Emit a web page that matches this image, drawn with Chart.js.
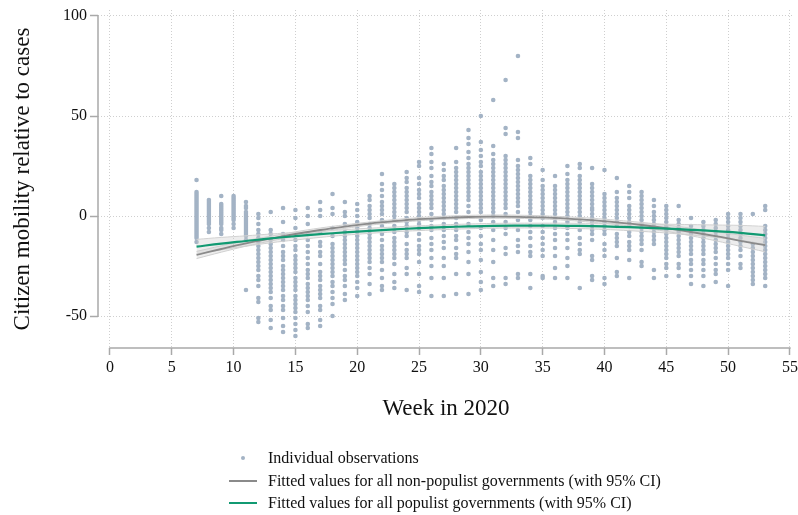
<!DOCTYPE html>
<html>
<head>
<meta charset="utf-8">
<script src="https://cdn.jsdelivr.net/npm/chart.js@4"></script>
<style>
  html, body { margin: 0; padding: 0; background: #fff; }
  #wrap { position: relative; width: 798px; height: 515px; }
  #legend { position: absolute; left: 226px; top: 447px; font-family: "Liberation Serif", "Times New Roman", serif; font-size: 16px; color: #111; }
  .row { height: 22.5px; line-height: 22.5px; display: flex; align-items: center; white-space: nowrap; }
  .sym { width: 42px; position: relative; height: 22px; }
  .dot { position: absolute; left: 15px; top: 9px; width: 4px; height: 4px; border-radius: 50%; background: #a3b3c5; }
  .ln { position: absolute; left: 3px; top: 10px; width: 28px; height: 2px; }
</style>
</head>
<body>
<div id="wrap">
  <canvas id="c" width="798" height="515"></canvas>
  <div id="legend">
    <div class="row"><div class="sym"><div class="dot"></div></div><span>Individual observations</span></div>
    <div class="row"><div class="sym"><div class="ln" style="background:#8a8a8a"></div></div><span>Fitted values for all non-populist governments (with 95% CI)</span></div>
    <div class="row"><div class="sym"><div class="ln" style="background:#119a72"></div></div><span>Fitted values for all populist governments (with 95% CI)</span></div>
  </div>
</div>
<script>
// ---- tick labels ----
const xTicks = [0, 5, 10, 15, 20, 25, 30, 35, 40, 45, 50, 55];
const yTicks = [-50, 0, 50, 100];

// ---- individual observations: one list of values per week ----
const obsWeeks = [7, 8, 9, 10, 11, 12, 13, 14, 15, 16, 17, 18, 19, 20, 21, 22, 23, 24, 25, 26, 27, 28, 29, 30,
                  31, 32, 33, 34, 35, 36, 37, 38, 39, 40, 41, 42, 43, 44, 45, 46, 47, 48, 49, 50, 51, 52, 53];
const observations = [
  [18,12,11,10,9,8,7,6,5,4,3,2,1,0,-1,-2,-3,-4,-5,-6,-7,-8,-9,-10,-11,-13],
  [8,7,6,5,4,3,2,1,0,-1,-2,-3,-4,-6,-8],
  [10,6,5,4,3,2,1,0,-1,-2,-3,-4,-6,-7,-9],
  [10,9,8,7,6,5,4,3,2,1,0,-1,-2,-4,-6],
  [7,5,4,2,1,0,-1,-2,-3,-4,-5,-6,-7,-8,-9,-10,-12,-37],
  [1,-1,-4,-7,-9,-11,-13,-15,-17,-19,-21,-23,-25,-27,-30,-32,-35,-41,-43,-51,-53],
  [2,-7,-9,-12,-14,-16,-18,-20,-22,-24,-26,-28,-30,-32,-34,-36,-38,-41,-45,-47,-52,-56],
  [4,-3,-9,-12,-15,-18,-20,-22,-25,-27,-29,-31,-33,-35,-37,-40,-42,-45,-47,-51,-55,-58],
  [3,-1,-6,-12,-15,-17,-20,-22,-24,-26,-28,-31,-33,-35,-37,-40,-42,-44,-46,-48,-51,-54,-57,-60],
  [4,0,-4,-9,-12,-15,-18,-21,-24,-27,-29,-31,-34,-36,-38,-40,-42,-45,-48,-54,-56],
  [7,3,0,-8,-13,-15,-18,-20,-24,-28,-30,-32,-35,-37,-39,-41,-45,-47,-52,-55],
  [11,4,1,-6,-10,-14,-16,-18,-20,-22,-24,-26,-28,-30,-33,-35,-38,-41,-44,-50],
  [7,2,0,-4,-8,-10,-12,-14,-16,-18,-20,-22,-24,-27,-30,-32,-35,-39,-42],
  [6,3,0,-3,-6,-8,-10,-12,-14,-16,-18,-20,-22,-24,-26,-28,-30,-33,-36,-40],
  [10,8,5,3,1,-1,-4,-6,-9,-11,-13,-15,-17,-19,-21,-23,-26,-29,-34,-39],
  [21,16,13,10,7,5,3,1,-2,-5,-9,-12,-15,-17,-19,-21,-23,-27,-31,-35,-37],
  [16,14,12,10,8,6,4,2,0,-2,-5,-8,-11,-13,-15,-17,-19,-21,-24,-29,-33,-36],
  [22,19,17,14,12,10,8,6,4,2,-1,-3,-5,-8,-10,-14,-17,-19,-21,-26,-29,-37],
  [27,25,19,16,13,11,9,6,4,2,0,-2,-4,-6,-9,-12,-15,-17,-19,-23,-29,-35,-38],
  [34,31,27,24,20,17,15,12,10,8,6,4,1,-2,-5,-7,-11,-14,-17,-21,-25,-31,-40],
  [26,23,20,18,15,13,11,9,7,5,3,1,-1,-4,-7,-10,-13,-16,-21,-25,-31,-40],
  [34,27,24,22,20,18,16,14,12,10,8,6,4,2,-1,-4,-7,-10,-12,-16,-19,-21,-29,-39],
  [43,39,36,32,29,26,24,22,20,18,16,14,12,10,8,5,2,-4,-8,-11,-14,-18,-23,-29,-39],
  [50,37,33,30,27,25,22,20,18,16,14,12,10,8,6,4,2,-2,-6,-10,-14,-17,-22,-28,-33,-37],
  [58,35,31,28,26,24,22,20,18,16,14,12,10,8,6,4,2,0,-3,-7,-12,-17,-23,-31,-35],
  [68,44,41,30,28,26,24,22,20,18,16,14,12,10,8,6,4,1,-3,-6,-9,-16,-19,-31,-34],
  [80,42,39,28,25,23,21,19,17,15,13,11,9,7,5,2,-2,-7,-12,-15,-18,-29,-31],
  [29,26,20,18,16,14,12,10,8,6,4,2,0,-2,-5,-8,-11,-15,-18,-20,-29,-36],
  [23,18,15,13,11,9,7,5,3,1,-1,-5,-8,-11,-14,-17,-20,-30,-31],
  [20,15,13,11,9,7,5,3,1,-1,-3,-6,-9,-12,-16,-20,-26,-31],
  [25,21,18,16,14,12,10,8,6,4,2,0,-3,-6,-9,-12,-16,-21,-25,-31],
  [26,24,20,18,16,14,12,10,8,6,4,2,0,-3,-7,-11,-14,-17,-19,-36],
  [24,16,14,12,10,8,6,4,3,1,-1,-3,-5,-7,-9,-12,-20,-22,-30,-32],
  [23,11,9,7,5,3,1,-1,-3,-5,-7,-9,-14,-17,-20,-31,-34],
  [19,12,9,7,5,3,1,-1,-3,-5,-9,-11,-13,-15,-21,-28,-30],
  [15,12,9,5,3,1,-1,-3,-5,-8,-10,-13,-15,-17,-22,-31],
  [12,10,8,6,4,2,0,-2,-4,-6,-8,-10,-12,-14,-17,-23,-25],
  [8,5,2,0,-2,-4,-6,-8,-10,-12,-14,-27,-31],
  [5,3,1,-1,-3,-5,-7,-9,-11,-13,-15,-17,-19,-21,-24,-26,-30],
  [5,-2,-4,-6,-8,-10,-12,-14,-16,-18,-20,-24,-26,-30],
  [-1,-5,-7,-9,-11,-13,-15,-17,-19,-22,-24,-27,-30,-34],
  [-3,-5,-7,-9,-11,-13,-15,-17,-19,-22,-24,-27,-30,-35],
  [-2,-4,-6,-8,-10,-12,-14,-16,-18,-21,-24,-27,-29,-33],
  [1,-1,-3,-5,-7,-9,-11,-13,-15,-17,-19,-21,-24,-27,-35],
  [1,-1,-3,-5,-7,-9,-11,-13,-15,-17,-20,-24,-26],
  [1,-14,-16,-18,-20,-22,-24,-26,-28,-30,-32,-34],
  [5,3,-5,-7,-9,-11,-13,-15,-17,-19,-21,-23,-25,-27,-29,-31,-35]
];

// ---- fitted values (quadratic fits) and 95% CI ----
const fitWeeks = [7, 9, 11, 13, 15, 17, 19, 21, 23, 25, 27, 29, 31, 33, 35, 37, 39, 41, 43, 45, 47, 49, 51, 53];
const nonPopFit   = [-19.5,-16.5,-13.7,-11.3,-9.0,-7.0,-5.3,-3.8,-2.6,-1.6,-0.9,-0.5,-0.3,-0.4,-0.7,-1.3,-2.1,-3.2,-4.5,-6.1,-8.0,-10.1,-12.4,-14.6];
const nonPopUpper = [-17.7,-14.9,-12.3,-10.1,-7.9,-6.0,-4.4,-3.0,-1.8,-0.8,-0.1,0.3,0.5,0.4,0.1,-0.4,-1.1,-2.1,-3.2,-4.5,-6.1,-7.8,-9.6,-11.2];
const nonPopLower = [-21.3,-18.1,-15.1,-12.5,-10.1,-8.0,-6.2,-4.6,-3.4,-2.4,-1.7,-1.3,-1.1,-1.2,-1.5,-2.2,-3.1,-4.3,-5.8,-7.7,-9.9,-12.4,-15.2,-17.9];
const popFit      = [-15.3,-13.8,-12.5,-11.2,-10.1,-9.1,-8.2,-7.4,-6.7,-6.1,-5.6,-5.2,-4.9,-4.8,-4.8,-4.9,-5.1,-5.4,-5.8,-6.3,-6.9,-7.6,-8.4,-9.7];
const popUpper    = [-11.7,-10.7,-9.9,-9.0,-8.2,-7.5,-6.8,-6.1,-5.5,-4.9,-4.4,-4.0,-3.7,-3.6,-3.6,-3.6,-3.7,-3.8,-3.9,-4.1,-4.3,-4.5,-4.7,-5.2];
const popLower    = [-18.9,-16.9,-15.1,-13.4,-12.0,-10.7,-9.6,-8.7,-7.9,-7.3,-6.8,-6.4,-6.1,-6.0,-6.0,-6.2,-6.5,-7.0,-7.7,-8.5,-9.5,-10.7,-12.1,-14.2];

// ---- build library structures ----
const scatterPts = [];
obsWeeks.forEach((w, i) => observations[i].forEach(v => scatterPts.push({x: w, y: v})));
const toXY = arr => arr.map((v, i) => ({x: fitWeeks[i], y: v}));

const serif = "'Liberation Serif', 'Times New Roman', serif";

const axisLines = {
  id: 'axisLines',
  beforeDatasetsDraw(chart) {
    const {ctx, chartArea, scales: {x, y}} = chart;
    ctx.save();
    ctx.strokeStyle = '#a9a9a9';
    ctx.lineWidth = 1.5;
    ctx.beginPath();
    ctx.moveTo(chartArea.left, y.getPixelForValue(yTicks[yTicks.length - 1]) - 0.75);
    ctx.lineTo(chartArea.left, y.getPixelForValue(yTicks[0]) + 0.75);
    ctx.moveTo(x.getPixelForValue(xTicks[0]) - 0.75, chartArea.bottom);
    ctx.lineTo(x.getPixelForValue(xTicks[xTicks.length - 1]) + 0.75, chartArea.bottom);
    ctx.stroke();
    ctx.restore();
  }
};

const bandLine = (data, fillTarget) => ({
  type: 'line', data: toXY(data), borderColor: '#d2d2d2', borderWidth: 1,
  backgroundColor: 'rgba(200,200,200,0.33)', fill: fillTarget, pointRadius: 0, tension: 0.4
});

new Chart(document.getElementById('c'), {
  type: 'scatter',
  data: {
    datasets: [
      { type: 'line', label: 'Fitted values for all populist governments (with 95% CI)', data: toXY(popFit),
        borderColor: '#119a72', borderWidth: 2.2, pointRadius: 0, fill: false, tension: 0.4 },
      { type: 'line', label: 'Fitted values for all non-populist governments (with 95% CI)', data: toXY(nonPopFit),
        borderColor: '#8a8a8a', borderWidth: 1.8, pointRadius: 0, fill: false, tension: 0.4 },
      bandLine(popUpper, '+1'),
      bandLine(popLower, false),
      bandLine(nonPopUpper, '+1'),
      bandLine(nonPopLower, false),
      { label: 'Individual observations', data: scatterPts, backgroundColor: '#a3b3c5',
        borderWidth: 0, pointRadius: 2.3 }
    ]
  },
  options: {
    responsive: false,
    animation: false,
    devicePixelRatio: 1,
    layout: { padding: { left: 0, right: 3, top: 10, bottom: 0 } },
    plugins: { legend: { display: false }, tooltip: { enabled: false } },
    scales: {
      x: {
        type: 'linear', min: -0.97, max: 55.33,
        afterBuildTicks: s => { s.ticks = xTicks.map(v => ({value: v})); },
        afterFit: s => { s.height = 167; s.paddingLeft = 0; s.paddingRight = 0; },
        ticks: { font: { family: serif, size: 16 }, color: '#111', padding: 3, maxRotation: 0, autoSkip: false },
        grid: { color: '#cfcfcf', lineWidth: 1, drawTicks: true, tickLength: 7, tickColor: '#a9a9a9', tickWidth: 1.5, tickBorderDash: [] },
        border: { display: false, dash: [1, 2] },
        title: { display: true, text: 'Week in 2020', font: { family: serif, size: 23 }, color: '#111', padding: { bottom: 92 } }
      },
      y: {
        type: 'linear', min: -66, max: 103,
        afterBuildTicks: s => { s.ticks = yTicks.map(v => ({value: v})); },
        afterFit: s => { s.width = 98; s.paddingTop = 0; s.paddingBottom = 0; },
        ticks: { font: { family: serif, size: 16 }, color: '#111', padding: 3 },
        grid: { color: '#cfcfcf', lineWidth: 1, drawTicks: true, tickLength: 8, tickColor: '#a9a9a9', tickWidth: 1.5, tickBorderDash: [] },
        border: { display: false, dash: [1, 2] },
        title: { display: true, text: 'Citizen mobility relative to cases', font: { family: serif, size: 23 }, color: '#111', padding: { top: 9 } }
      }
    }
  },
  plugins: [axisLines]
});
</script>
</body>
</html>
